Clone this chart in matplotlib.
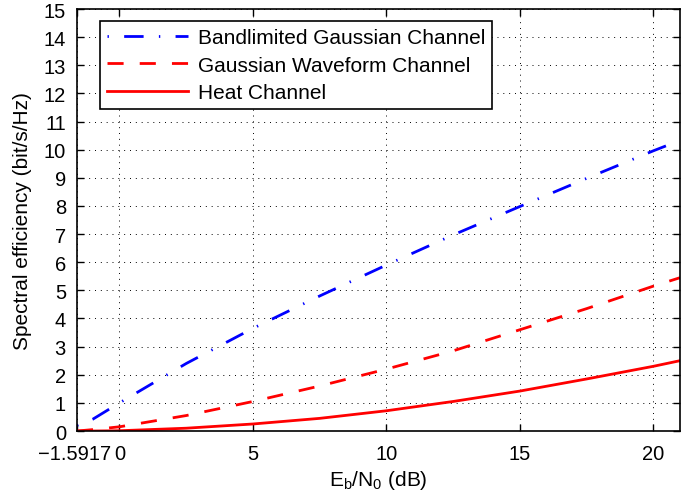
import numpy as np
import matplotlib.pyplot as plt
from matplotlib.transforms import ScaledTranslation

plt.rcParams['font.family'] = ['Liberation Sans', 'DejaVu Sans']
plt.rcParams['mathtext.fontset'] = 'custom'
plt.rcParams['mathtext.rm'] = 'Liberation Sans'

# values
ebn0 = [-1.5917, -1.0, 0.0, 2.5, 5.0, 7.5, 10.0, 12.5, 15.0, 17.5, 20.0, 21.0]
bandlimited = [0.2, 0.42, 1.0, 2.4, 3.65, 4.8, 5.9, 6.97, 7.98, 8.98, 9.96, 10.33]
waveform = [0.0, 0.05, 0.15, 0.55, 1.05, 1.6, 2.2, 2.85, 3.6, 4.35, 5.15, 5.45]
heat = [0.0, 0.0, 0.01, 0.1, 0.25, 0.45, 0.72, 1.05, 1.42, 1.85, 2.3, 2.5]

xticks = [-1.5917, 0, 5, 10, 15, 20]
xticklabels = ['\u22121.5917', '0', '5', '10', '15', '20']

fig = plt.figure(figsize=(6.85, 5.02), dpi=100)
ax = fig.add_axes([0.1124, 0.1394, 0.8803, 0.8406])

ax.plot(ebn0, bandlimited, color='blue', linestyle=(0, (0.5, 5.5, 7, 5.5)), linewidth=2,
        label='Bandlimited Gaussian Channel')
ax.plot(ebn0, waveform, color='red', linestyle=(0, (5.8, 5.8)), linewidth=2,
        label='Gaussian Waveform Channel')
ax.plot(ebn0, heat, color='red', linestyle='-', linewidth=2, label='Heat Channel')

ax.set_xlim(-1.5917, 21)
ax.set_ylim(0, 15)
ax.set_xticks(xticks)
ax.set_xticklabels(xticklabels)
ax.set_yticks(range(16))
ax.tick_params(direction='in', top=True, right=True, labelsize=14.5, length=5, width=1)
ax.tick_params(axis='x', pad=9)
ax.tick_params(axis='y', pad=8)
ax.grid(True, linestyle=(0, (1, 5)), color='black', linewidth=0.7)
for s in ax.spines.values():
    s.set_linewidth(1.2)

# nudge the first x label left so it sits beside the "0"
lab0 = ax.get_xticklabels()[0]
lab0.set_transform(lab0.get_transform() + ScaledTranslation(-2 / 72, 0, fig.dpi_scale_trans))

ax.set_xlabel(r'E$_\mathregular{b}$/N$_\mathregular{0}$ (dB)', fontsize=15, labelpad=4)
ax.set_ylabel('Spectral efficiency (bit/s/Hz)', fontsize=15, labelpad=8)

leg = ax.legend(loc='upper left', fontsize=15, fancybox=False, framealpha=1,
                edgecolor='black', borderpad=0.35, handlelength=3.9, labelspacing=0.4,
                handletextpad=0.45, borderaxespad=0, bbox_to_anchor=(0.038, 0.9716))
leg.get_frame().set_linewidth(1.2)

plt.savefig('out.png', dpi=100)
